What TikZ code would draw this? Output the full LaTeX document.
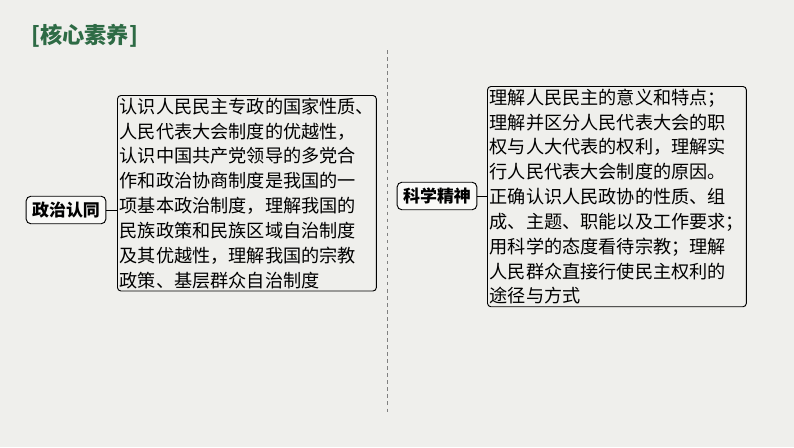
\documentclass[tikz,border=0pt]{standalone}
\usepackage{fontspec}
\newfontfamily\cjk{Noto Sans CJK SC}
\usetikzlibrary{positioning}
\definecolor{paper}{HTML}{EFEFEC}
\definecolor{titlegreen}{HTML}{2E6B45}
\tikzset{
  textbox/.style={draw, rounded corners=3pt, line width=0.8pt, align=left, anchor=north west,
    inner sep=2pt, font=\cjk\fontsize{15.5}{21.2}\selectfont},
  tagbox/.style={draw, rounded corners=4pt, line width=0.8pt, fill=white!60!paper,
    minimum width=68pt, minimum height=23.5pt, inner sep=2pt,
    font=\cjk\bfseries\fontsize{14.5}{16}\selectfont},
}
\begin{document}
\begin{tikzpicture}[x=0.03cm, y=-0.03cm]

% Background
\fill[paper] (0,0) rectangle (794,447);
\useasboundingbox (0,0) rectangle (794,447);

% Title
\node[anchor=west, text=titlegreen, font=\cjk\bfseries\fontsize{19}{21}\selectfont] (title) at (27,36) {[核心素养]};

% Divider
\coordinate (divtop) at (387,50);
\coordinate (divbot) at (387,412);
\draw[gray, dashed, line width=0.5pt] (divtop) -- (divbot);

% Left side
\node[textbox] (ltext) at (117,95) {认识人民民主专政的国家性质、\\人民代表大会制度的优越性，\\认识中国共产党领导的多党合\\作和政治协商制度是我国的一\\项基本政治制度，理解我国的\\民族政策和民族区域自治制度\\及其优越性，理解我国的宗教\\政策、基层群众自治制度};
\node[tagbox] (ltag) at (66,210) {政治认同};
\draw[line width=0.8pt] (ltag.east) -- (ltag.east -| ltext.west);

% Right side
\node[textbox] (rtext) at (487,86) {理解人民民主的意义和特点；\\理解并区分人民代表大会的职\\权与人大代表的权利，理解实\\行人民代表大会制度的原因。\\正确认识人民政协的性质、组\\成、主题、职能以及工作要求；\\用科学的态度看待宗教；理解\\人民群众直接行使民主权利的\\途径与方式};
\node[tagbox] (rtag) at (437,196) {科学精神};
\draw[line width=0.8pt] (rtag.east) -- (rtag.east -| rtext.west);

\end{tikzpicture}
\end{document}
